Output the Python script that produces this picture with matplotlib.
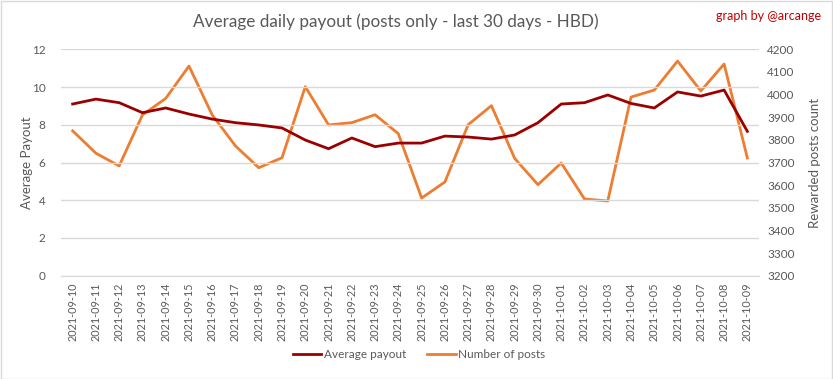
import matplotlib
matplotlib.use("Agg")
import matplotlib.pyplot as plt
from matplotlib.patches import Rectangle

plt.rcParams['font.family'] = ['Lato', 'DejaVu Sans']

dates = ["2021-09-10", "2021-09-11", "2021-09-12", "2021-09-13", "2021-09-14", "2021-09-15",
         "2021-09-16", "2021-09-17", "2021-09-18", "2021-09-19", "2021-09-20", "2021-09-21",
         "2021-09-22", "2021-09-23", "2021-09-24", "2021-09-25", "2021-09-26", "2021-09-27",
         "2021-09-28", "2021-09-29", "2021-09-30", "2021-10-01", "2021-10-02", "2021-10-03",
         "2021-10-04", "2021-10-05", "2021-10-06", "2021-10-07", "2021-10-08", "2021-10-09"]
avg_payout = [9.10, 9.36, 9.17, 8.64, 8.89, 8.57, 8.30, 8.11, 7.99, 7.83, 7.19, 6.73,
              7.30, 6.84, 7.03, 7.03, 7.40, 7.35, 7.24, 7.46, 8.11, 9.10, 9.17, 9.58,
              9.13, 8.89, 9.74, 9.52, 9.84, 7.65]
num_posts = [3840, 3741, 3685, 3910, 3983, 4126, 3910, 3773, 3677, 3721, 4035, 3866,
             3876, 3911, 3827, 3543, 3614, 3867, 3951, 3718, 3602, 3698, 3539, 3530,
             3989, 4020, 4148, 4016, 4135, 3720]
left_ticks = [0, 2, 4, 6, 8, 10, 12]
right_ticks = list(range(3200, 4201, 100))

W, H = 833, 379
fig = plt.figure(figsize=(W / 100, H / 100), dpi=100)
fig.patch.set_facecolor('white')
fig.add_artist(Rectangle((0.5 / W, 0.5 / H), 1 - 1.5 / W, 1 - 1.5 / H, transform=fig.transFigure,
                         fill=False, edgecolor='#d9d9d9', linewidth=1))

left, right, top, bottom = 61, 759, 49.3, 275.7
ax = fig.add_axes([left / W, 1 - bottom / H, (right - left) / W, (bottom - top) / H])
ax2 = ax.twinx()

grey = '#595959'
x = list(range(len(dates)))

ax.set_ylim(0, 12)
ax.set_yticks(left_ticks)
ax.set_xlim(-0.5, len(dates) - 0.5)
ax.grid(axis='y', color='#d9d9d9', linewidth=1)
ax.set_axisbelow(True)
ax.set_xticks(x)
ax.set_xticklabels(dates, rotation=90, fontsize=7.8, color=grey)
ax.tick_params(axis='x', length=0, pad=5)
ax.tick_params(axis='y', length=0, labelsize=8.5, colors=grey, pad=11)
for s in ax.spines.values():
    s.set_visible(False)
for s in ax2.spines.values():
    s.set_visible(False)
ax.spines['bottom'].set_visible(True)
ax.spines['bottom'].set_color('#d9d9d9')

ax2.set_ylim(3200, 4200)
ax2.set_yticks(right_ticks)
ax2.tick_params(axis='y', length=0, labelsize=8.5, colors=grey, pad=6)

l1, = ax.plot(x, avg_payout, color='#9b0000', linewidth=2, label='Average payout', zorder=3)
l2, = ax2.plot(x, num_posts, color='#ed7d31', linewidth=2, label='Number of posts', zorder=2)
ax.set_zorder(ax2.get_zorder() + 1)
ax.patch.set_visible(False)

ax.set_ylabel('Average Payout', fontsize=9.5, color=grey)
ax.yaxis.set_label_coords((33 - left) / (right - left), 0.5)
ax2.set_ylabel('Rewarded posts count', fontsize=9.5, color=grey)
ax2.yaxis.set_label_coords((809 - left) / (right - left), 0.5)

fig.text(396 / W, 1 - 22 / H, 'Average daily payout (posts only - last 30 days - HBD)',
         ha='center', va='center', fontsize=12.3, color=grey)
fig.text(821 / W, 1 - 16 / H, 'graph by @arcange', ha='right', va='center', fontsize=9, color='#c00000')

fig.legend(handles=[l1, l2], loc='center', bbox_to_anchor=(419 / W, 1 - 355 / H), ncol=2,
           frameon=False, fontsize=8.5, labelcolor=grey, handlelength=2.4, columnspacing=1.8,
           handletextpad=0.2)

fig.savefig('out.png', dpi=100, facecolor='white')
